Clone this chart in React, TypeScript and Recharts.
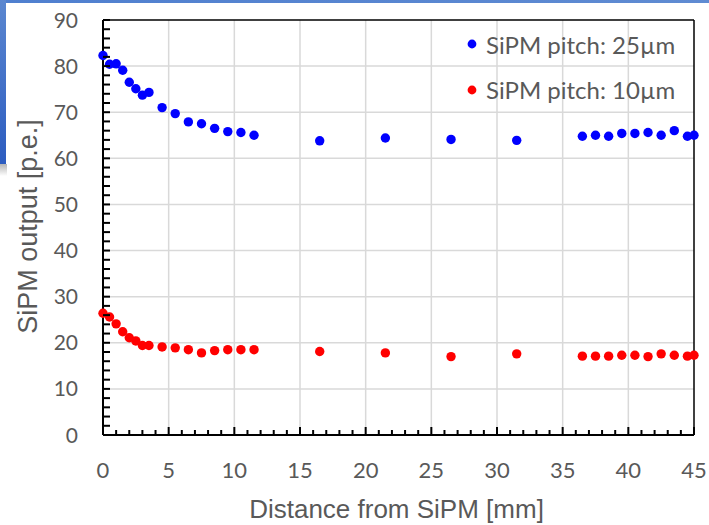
import React from 'react';
import { ScatterChart, Scatter, XAxis, YAxis, CartesianGrid, ReferenceLine } from 'recharts';

const distances = [0, 0.5, 1, 1.5, 2, 2.5, 3, 3.5, 4.5, 5.5, 6.5, 7.5, 8.5, 9.5, 10.5, 11.5, 16.5, 21.5, 26.5, 31.5, 36.5, 37.5, 38.5, 39.5, 40.5, 41.5, 42.5, 43.5, 44.5, 45];
const pitch25 = [82.3, 80.4, 80.5, 79.1, 76.5, 75.1, 73.7, 74.3, 71.0, 69.7, 67.9, 67.5, 66.5, 65.8, 65.6, 65.0, 63.8, 64.4, 64.1, 63.9, 64.8, 65.0, 64.8, 65.4, 65.4, 65.6, 65.0, 66.0, 64.8, 65.0];
const pitch10 = [26.4, 25.6, 24.1, 22.4, 21.1, 20.4, 19.4, 19.4, 19.1, 18.9, 18.5, 17.8, 18.3, 18.5, 18.5, 18.5, 18.1, 17.8, 17.0, 17.6, 17.1, 17.1, 17.1, 17.3, 17.3, 17.0, 17.6, 17.3, 17.1, 17.3];
const seriesNames = ['SiPM pitch: 25µm', 'SiPM pitch: 10µm'];
const seriesColors = ['#0000ff', '#ff0000'];
const xTicks = Array.from({ length: 46 }, (_, i) => i);
const yTicks = Array.from({ length: 46 }, (_, i) => i * 2);
const xGrid = [5, 10, 15, 20, 25, 30, 35, 40];
const yGrid = [10, 20, 30, 40, 50, 60, 70, 80];
const xTitle = 'Distance from SiPM [mm]';
const yTitle = 'SiPM output [p.e.]';

const data25 = distances.map((d, i) => ({ x: d, y: pitch25[i] }));
const data10 = distances.map((d, i) => ({ x: d, y: pitch10[i] }));

const TEXT = '#595959';
const TICK_FONT = 'Lato, Calibri, "Open Sans", sans-serif';

const XTick = (props: any) => {
  const { x, y, payload } = props;
  const v = payload.value;
  const major = v % 5 === 0;
  return (
    <g>
      <line x1={x} x2={x} y1={y} y2={y - (major ? 8 : 5)} stroke="#000" strokeWidth={2} />
      {major && (
        <text x={x} y={y + 35} dy="0.36em" textAnchor="middle" fill={TEXT} fontFamily={TICK_FONT} fontSize={22}>
          {v}
        </text>
      )}
    </g>
  );
};

const YTick = (props: any) => {
  const { x, y, payload } = props;
  const v = payload.value;
  const major = v % 10 === 0;
  return (
    <g>
      <line x1={x} x2={x + 7} y1={y} y2={y} stroke="#000" strokeWidth={2} />
      {major && (
        <text x={x - 25} y={y} dy="0.36em" textAnchor="end" fill={TEXT} fontFamily={TICK_FONT} fontSize={21}>
          {v}
        </text>
      )}
    </g>
  );
};

const YTitle = (props: any) => {
  const vb = props.viewBox || { x: 43, y: 20, width: 60, height: 415 };
  const cx = 37;
  const cy = vb.y + vb.height / 2 - 1;
  return (
    <text x={cx} y={cy} transform={`rotate(-90 ${cx} ${cy})`} textAnchor="middle" fill={TEXT} fontFamily='"Liberation Sans", Arial, sans-serif' fontSize={27}>
      {yTitle}
    </text>
  );
};

const XTitle = (props: any) => {
  const vb = props.viewBox || { x: 103, y: 435, width: 591, height: 60 };
  const cx = vb.x + vb.width / 2 - 2;
  return (
    <text x={cx} y={518} textAnchor="middle" fill={TEXT} fontFamily='"Liberation Sans", Arial, sans-serif' fontSize={26}>
      {xTitle}
    </text>
  );
};

const dot = (color: string) => (props: any) => <circle cx={props.cx} cy={props.cy} r={4.7} fill={color} />;

export default function App() {
  return (
    <div style={{ position: 'absolute', left: 0, top: 0, width: 709, height: 525, background: '#fff', overflow: 'hidden' }}>
      <div style={{ position: 'absolute', left: 0, top: 0, width: 709, height: 3, background: 'linear-gradient(to right, #4f7fcf, #5f8bd2)' }} />
      <div style={{ position: 'absolute', left: 0, top: 0, width: 6, height: 164, background: 'linear-gradient(to bottom, #5b87d0, #2c5cc0)' }} />
      <div style={{ position: 'absolute', left: 0, top: 164, width: 7, height: 12, background: 'linear-gradient(to bottom, #b5b5b5, #ffffff)' }} />
      <div style={{ position: 'absolute', left: 0, top: 0 }}>
        <ScatterChart width={709} height={525} margin={{ top: 20, right: 15, bottom: 30, left: 43 }}>
          <CartesianGrid horizontalValues={yGrid} verticalValues={xGrid} stroke="#d9d9d9" strokeWidth={1.5} />
          <XAxis
            type="number"
            dataKey="x"
            domain={[0, 45]}
            ticks={xTicks}
            interval={0}
            height={60}
            tickSize={0}
            tickMargin={0}
            tickLine={false}
            axisLine={{ stroke: '#000', strokeWidth: 2 }}
            tick={<XTick />}
            label={<XTitle />}
            allowDecimals={false}
          />
          <YAxis
            type="number"
            dataKey="y"
            domain={[0, 90]}
            ticks={yTicks}
            interval={0}
            width={60}
            tickSize={0}
            tickMargin={0}
            tickLine={false}
            axisLine={{ stroke: '#000', strokeWidth: 2 }}
            tick={<YTick />}
            label={<YTitle />}
          />
          <ReferenceLine y={90} stroke="#000" strokeWidth={1.5} />
          <ReferenceLine x={45} stroke="#000" strokeWidth={1.5} />
          <Scatter name={seriesNames[0]} data={data25} fill={seriesColors[0]} shape={dot(seriesColors[0])} isAnimationActive={false} />
          <Scatter name={seriesNames[1]} data={data10} fill={seriesColors[1]} shape={dot(seriesColors[1])} isAnimationActive={false} />
        </ScatterChart>
      </div>
      <svg width={260} height={110} style={{ position: 'absolute', left: 450, top: 0 }}>
        {seriesNames.map((name, i) => (
          <g key={name}>
            <circle cx={22} cy={44 + i * 46} r={4.4} fill={seriesColors[i]} />
            <text x={36} y={54 + i * 45} fill={TEXT} fontFamily={TICK_FONT} fontSize={24}>
              {name}
            </text>
          </g>
        ))}
      </svg>
    </div>
  );
}
